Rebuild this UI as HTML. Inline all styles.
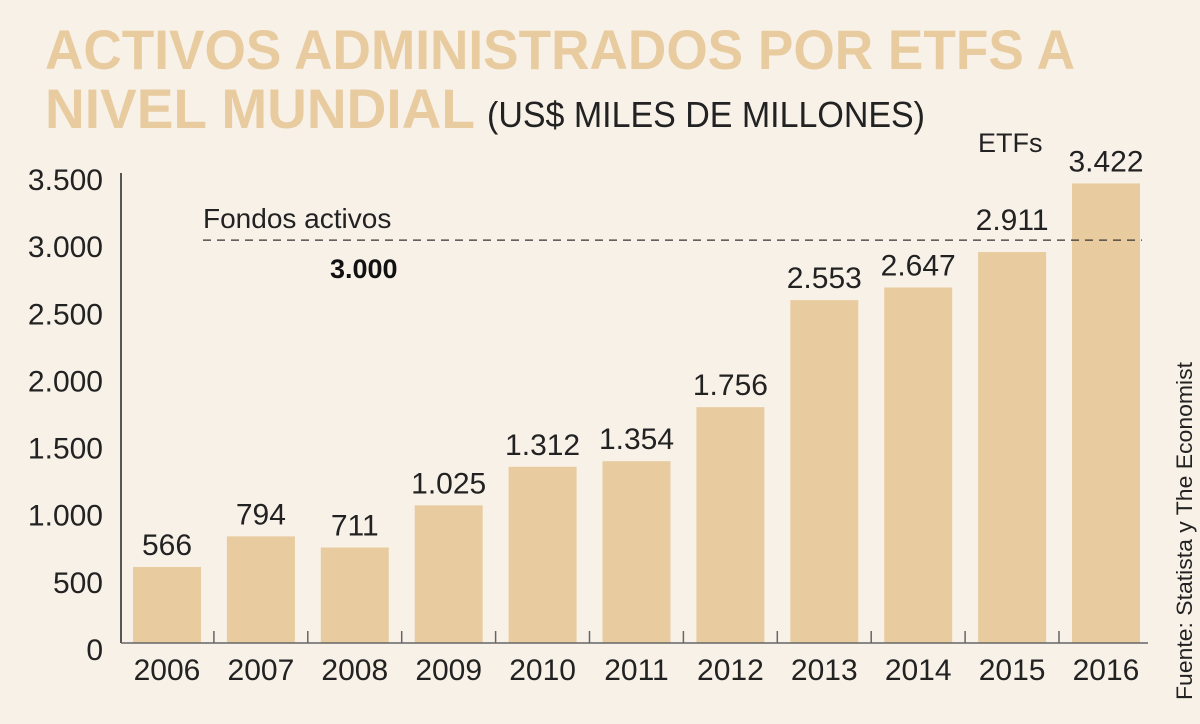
<!DOCTYPE html>
<html><head><meta charset="utf-8"><style>
body{margin:0;background:#f8f1e8;}
svg{display:block;font-family:"Liberation Sans",sans-serif;}
</style></head><body>
<svg id="c" width="1200" height="724" xmlns="http://www.w3.org/2000/svg">
<rect width="1200" height="724" fill="#f8f1e8"/>
<text x="45" y="69" font-size="56" font-weight="bold" fill="#e8cca0" textLength="1030" lengthAdjust="spacingAndGlyphs">ACTIVOS ADMINISTRADOS POR ETFS A</text>
<text x="45" y="128" font-size="56" font-weight="bold" fill="#e8cca0" textLength="430" lengthAdjust="spacingAndGlyphs">NIVEL MUNDIAL</text>
<text x="487" y="127" font-size="36" fill="#222" textLength="438" lengthAdjust="spacingAndGlyphs">(US$ MILES DE MILLONES)</text>
<g id="plot"></g>
<text x="978" y="152" font-size="27" fill="#222">ETFs</text>
<text x="203" y="228" font-size="28" fill="#222">Fondos activos</text>
<text x="330" y="278" font-size="27" font-weight="bold" fill="#111">3.000</text>
<text transform="translate(1192,700) rotate(-90)" font-size="22" fill="#222" textLength="338" lengthAdjust="spacingAndGlyphs">Fuente: Statista y The Economist</text>
</svg>
<script>
const categories=["2006","2007","2008","2009","2010","2011","2012","2013","2014","2015","2016"];
const values=[566,794,711,1025,1312,1354,1756,2553,2647,2911,3422];
const valueLabels=["566","794","711","1.025","1.312","1.354","1.756","2.553","2.647","2.911","3.422"];
const yTicks=[0,500,1000,1500,2000,2500,3000,3500];
const yTickLabels=["0","500","1.000","1.500","2.000","2.500","3.000","3.500"];
const refValue=3000;
const NS="http://www.w3.org/2000/svg";
const g=document.getElementById('plot');
const base=643, k=0.1343, x0=121, pitch=93.9;
const y=v=>base-v*k;
const xb=i=>x0+12+i*pitch;
function el(t,a){const e=document.createElementNS(NS,t);for(const n in a)e.setAttribute(n,a[n]);g.appendChild(e);return e;}
categories.forEach((c,i)=>{
 const r=el('rect',{x:xb(i),y:y(values[i]),width:68,height:values[i]*k,fill:'#e8cca0'});
 
 
 let ly=y(values[i])-12;
 const ry=y(refValue);
 if(ly>ry-4 && ly<ry+30) ly=ry-10;
 const t=el('text',{x:xb(i)+34,y:ly,'font-size':30,'text-anchor':'middle',fill:'#222'});
 t.textContent=valueLabels[i];
 
 
 const xl=el('text',{x:xb(i)+34,y:680,'font-size':30,'text-anchor':'middle',fill:'#222'});
 xl.textContent=c;
 
 
 if(i>0){const tk=el('line',{x1:xb(i)-13,x2:xb(i)-13,y1:base-12,y2:base,stroke:'#666','stroke-width':1.5});
 
 }
});
yTicks.forEach((v,i)=>{
 const t=el('text',{x:103,y:y(v)+17,'font-size':30,'text-anchor':'end',fill:'#222'});
 t.textContent=yTickLabels[i];
 
 
});
const ax=el('line',{x1:x0,x2:x0,y1:173,y2:base,stroke:'#222','stroke-width':1.5});


const bx=el('line',{x1:x0,x2:1148,y1:base,y2:base,stroke:'#666','stroke-width':1.5});


const rl=el('line',{x1:203,x2:1142,y1:y(refValue),y2:y(refValue),stroke:'#333','stroke-width':1.2,'stroke-dasharray':'8,6'});


</script>
</body></html>
